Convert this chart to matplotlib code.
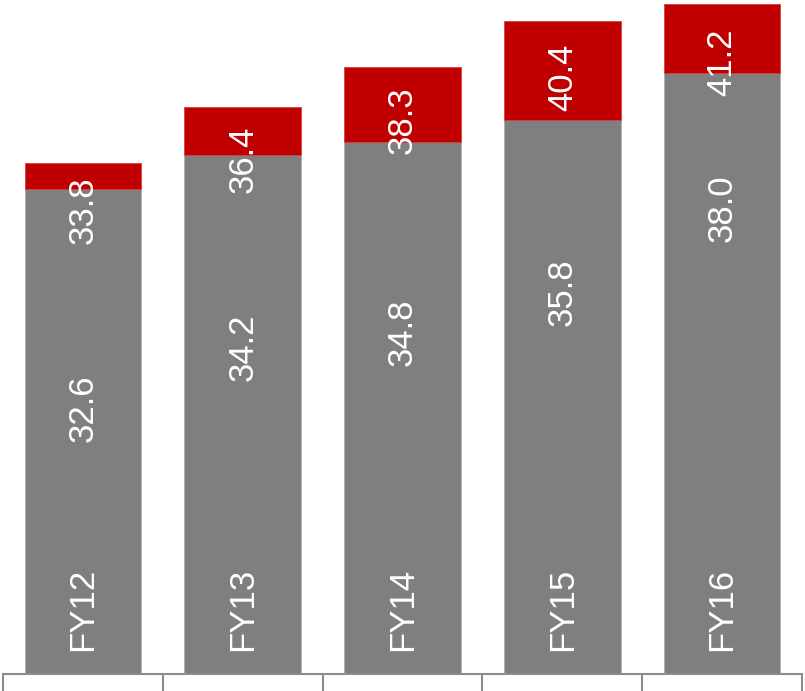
import numpy as np
import matplotlib
matplotlib.use('Agg')
import matplotlib.pyplot as plt

years = ['FY12', 'FY13', 'FY14', 'FY15', 'FY16']
base_values = [32.6, 34.2, 34.8, 35.8, 38.0]
total_values = [33.8, 36.4, 38.3, 40.4, 41.2]

#label placement (value units)
base_label_y = [22.4, 25.2, 25.9, 27.8, 31.7]
total_label_y = [31.6, 34.0, 35.8, 37.8, 38.5]
year_label_y = 13.0

plt.rcParams['font.family'] = ['Liberation Sans', 'DejaVu Sans']

fig = plt.figure(figsize=(8.05, 6.91), dpi=100)
ax = fig.add_axes([3 / 805, 17 / 691, 799 / 805, 674 / 691])

x = np.arange(len(years))
extra = [t - b for t, b in zip(total_values, base_values)]
ymin = 10

ax.bar(x, [b - ymin for b in base_values], bottom=ymin, width=0.73, color='#7f7f7f',
       edgecolor='#b0b0b0', linewidth=0.6)
ax.bar(x, extra, bottom=base_values, width=0.73, color='#c00000',
       edgecolor='#d04040', linewidth=0.6)

for i in range(len(years)):
    ax.text(x[i], base_label_y[i], '%.1f' % base_values[i], rotation=90, color='white',
            fontsize=25, ha='center', va='center', rotation_mode='anchor')
    ax.text(x[i], total_label_y[i], '%.1f' % total_values[i], rotation=90, color='white',
            fontsize=25, ha='center', va='center', rotation_mode='anchor')
    ax.text(x[i], year_label_y, years[i], rotation=90, color='white',
            fontsize=25, ha='center', va='center', rotation_mode='anchor')

ax.set_xlim(-0.5, 4.5)
ax.set_ylim(ymin, 41.4)
for side in ['top', 'left', 'right']:
    ax.spines[side].set_visible(False)
ax.spines['bottom'].set_color('#8c8c8c')
ax.spines['bottom'].set_linewidth(1.5)
ax.set_yticks([])
ax.set_xticks(np.arange(-0.5, 5, 1))
ax.set_xticklabels([])
ax.tick_params(axis='x', length=12.5, width=1.5, color='#8c8c8c', direction='out')

plt.savefig('out.png', dpi=100)
